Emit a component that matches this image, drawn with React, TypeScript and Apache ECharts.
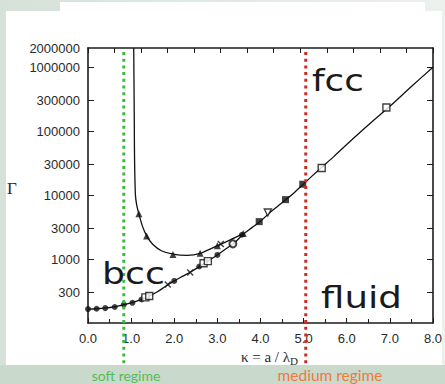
import React, { useEffect, useRef } from "react";
import * as echarts from "echarts";

// ---- data ----
const xMin = 0;
const xMax = 8;
const yMin = 100;
const yMax = 2000000;
const yLabelValues = [300, 1000, 3000, 10000, 30000, 100000, 300000, 1000000, 2000000];
const yTickValues = [300, 1000, 3000, 10000, 30000, 100000, 300000, 1000000];

// bcc/fcc - fluid melting line (lower curve)
const lowerKappa = [0, 0.2, 0.4, 0.6, 0.8, 1.0, 1.2, 1.4, 1.6, 1.8, 2.0, 2.2, 2.4, 2.6, 2.8, 3.0, 3.2, 3.4, 3.6, 3.8, 4.0, 4.2, 4.4, 4.6, 4.8, 5.0, 5.2, 5.4, 5.7, 6.0, 6.5, 7.0, 7.5, 8.0];
const lowerGamma = [165, 167, 171, 178, 190, 206, 228, 260, 305, 375, 455, 540, 640, 775, 950, 1160, 1450, 1800, 2450, 3100, 3900, 5200, 6700, 8600, 11200, 15000, 20000, 26500, 40000, 62000, 125000, 245000, 500000, 1000000];

// bcc - fcc boundary (upper curve)
const upperKappa = [1.06, 1.065, 1.07, 1.075, 1.08, 1.1, 1.13, 1.18, 1.26, 1.36, 1.5, 1.7, 2.0, 2.3, 2.6, 3.0, 3.3, 3.6];
const upperGamma = [2000000, 800000, 300000, 100000, 35000, 10000, 7000, 5100, 3300, 2300, 1700, 1350, 1180, 1140, 1230, 1620, 2000, 2500];

// simulation markers
const filledCircles = [[0, 165], [0.2, 167], [0.4, 171], [0.62, 178], [0.83, 194], [1.03, 207], [1.24, 233], [2.0, 455], [2.58, 765], [3.0, 1160], [3.57, 2400]];
const filledSquares = [[3.97, 3850], [4.58, 8500], [4.98, 14800]];
const openSquares = [[1.33, 252], [1.42, 265], [2.68, 860], [2.78, 930], [5.42, 26500], [6.92, 235000]];
const triangles = [[1.18, 5100], [1.36, 2300], [1.97, 1180], [2.6, 1230], [3.0, 1620], [3.6, 2500]];
const downTriangles = [[4.17, 5350]];
const crosses = [[1.85, 400], [2.37, 615], [3.08, 1720]];
const openCircles = [[3.36, 1730]];

// regime markers
const softKappa = 0.83;
const mediumKappa = 5.05;

const zip = (xs: number[], ys: number[]) => xs.map((x, i) => [x, ys[i]]);

export default function App() {
  const ref = useRef<HTMLDivElement>(null);
  useEffect(() => {
    const chart = echarts.init(ref.current!, null, { renderer: "svg" });
    const axisColor = "#1c1c1c";
    const tickLabel = { fontFamily: "Liberation Sans", fontSize: 13, color: "#2a2a2a" };
    const option: any = {
      animation: false,
      grid: { left: 88, right: 11, top: 48, bottom: 61 },
      xAxis: [
        {
          type: "value", min: xMin, max: xMax, interval: 1, position: "bottom",
          axisLine: { show: true, lineStyle: { color: axisColor, width: 1.6 } },
          axisTick: { show: true, inside: true, length: 5, lineStyle: { color: axisColor, width: 1 } },
          minorTick: { show: true, splitNumber: 2, length: 4, lineStyle: { color: axisColor, width: 1 } },
          axisLabel: { ...tickLabel, margin: 9, formatter: (v: number) => v.toFixed(1) },
          splitLine: { show: false },
        },
        {
          type: "value", min: xMin, max: xMax, interval: 8 / 13, position: "top",
          axisLine: { show: true, onZero: false, lineStyle: { color: axisColor, width: 1.6 } },
          axisTick: { show: true, inside: true, length: 5, lineStyle: { color: axisColor, width: 1 } },
          axisLabel: { show: false },
          splitLine: { show: false },
        },
      ],
      yAxis: [
        {
          type: "log", logBase: 10, min: yMin, max: yMax, position: "left",
          axisLine: { show: true, onZero: false, lineStyle: { color: axisColor, width: 1.6 } },
          axisTick: { show: true, inside: true, length: 6, customValues: yTickValues, lineStyle: { color: axisColor, width: 1 } },
          axisLabel: { ...tickLabel, margin: 8, customValues: yLabelValues, formatter: (v: number) => String(Math.round(v)) },
          splitLine: { show: false },
          minorTick: { show: false },
        },
        {
          type: "log", logBase: 10, min: yMin, max: yMax, position: "right",
          axisLine: { show: true, onZero: false, lineStyle: { color: axisColor, width: 1.6 } },
          axisTick: { show: true, inside: true, length: 6, customValues: yTickValues, lineStyle: { color: axisColor, width: 1 } },
          axisLabel: { show: false, customValues: yTickValues },
          splitLine: { show: false },
        },
      ],
      series: [
        {
          type: "line", data: zip(lowerKappa, lowerGamma), smooth: 0.3, showSymbol: false,
          lineStyle: { color: "#111", width: 1.3 }, silent: true, z: 3,
        },
        {
          type: "line", data: zip(upperKappa, upperGamma), smooth: 0.3, showSymbol: false,
          lineStyle: { color: "#111", width: 1.3 }, silent: true, z: 3,
        },
        { type: "scatter", data: filledCircles, symbol: "circle", symbolSize: 6, itemStyle: { color: "#111" }, z: 4 },
        { type: "scatter", data: filledSquares, symbol: "rect", symbolSize: 7, itemStyle: { color: "#111" }, z: 4 },
        { type: "scatter", data: openSquares, symbol: "rect", symbolSize: 7, itemStyle: { color: "#fff", borderColor: "#111", borderWidth: 1.4 }, z: 4 },
        { type: "scatter", data: triangles, symbol: "triangle", symbolSize: 7, itemStyle: { color: "#111" }, z: 4 },
        { type: "scatter", data: downTriangles, symbol: "triangle", symbolRotate: 180, symbolSize: 7, itemStyle: { color: "#fff", borderColor: "#111", borderWidth: 1.4 }, z: 4 },
        { type: "scatter", data: crosses, symbol: "path://M0,0L10,10M10,0L0,10", symbolSize: 6, itemStyle: { color: "none", borderColor: "#111", borderWidth: 1.4 }, z: 4 },
        { type: "scatter", data: openCircles, symbol: "emptyCircle", symbolSize: 7, itemStyle: { color: "#111", borderColor: "#111", borderWidth: 1.4 }, z: 4 },
      ],
    };
    chart.setOption(option);

    const gx = chart.convertToPixel({ xAxisIndex: 0 }, softKappa) as number;
    const rx = chart.convertToPixel({ xAxisIndex: 0 }, mediumKappa) as number;

    const txt = (text: string, x: number, y: number, font: string, fill: string, align = "left", scaleX = 1) => ({
      type: "text", z: 10, x, y, scaleX,
      style: { text, x: 0, y: 0, font, fill, align, textAlign: align, verticalAlign: "middle", textVerticalAlign: "middle" },
    });

    chart.setOption({
      graphic: [
        { type: "rect", z: -20, silent: true, shape: { x: 0, y: 0, width: 445, height: 384 },
          style: { fill: new echarts.graphic.LinearGradient(0, 0, 1, 0, [{ offset: 0, color: "#d6e1d9" }, { offset: 1, color: "#edf1ee" }]) } },
        { type: "rect", z: -19, silent: true, shape: { x: 6, y: 11, width: 436, height: 354 }, style: { fill: "#ffffff" } },
        { type: "rect", z: -19, silent: true, shape: { x: 60, y: 2, width: 365, height: 10 }, style: { fill: "#ffffff" } },
        { type: "rect", z: -19, silent: true, shape: { x: 0, y: 365, width: 445, height: 19 }, style: { fill: "#c9d9cc" } },
        { type: "line", z: 8, silent: true, shape: { x1: gx, y1: 52, x2: gx, y2: 365 },
          style: { stroke: "#3dba3d", lineWidth: 3, lineDash: [3, 3.7], lineCap: "butt" } },
        { type: "line", z: 8, silent: true, shape: { x1: rx, y1: 52, x2: rx, y2: 365 },
          style: { stroke: "#cc2b22", lineWidth: 3, lineDash: [3, 3.7], lineCap: "butt" } },
        txt("fcc", 312, 80, "31px 'DejaVu Sans'", "#1a1a1a", "left", 1.15),
        txt("bcc", 102, 273, "31px 'DejaVu Sans'", "#1a1a1a", "left", 1.17),
        txt("fluid", 321, 297, "31px 'DejaVu Sans'", "#1a1a1a", "left", 1.2),
        txt("Γ", 7, 188, "17px 'Liberation Serif'", "#2a2a2a"),
        txt("κ = a / λ", 290, 357, "15px 'Liberation Serif'", "#2a2a2a", "right"),
        txt("D", 290, 361, "11px 'Liberation Serif'", "#2a2a2a"),
        txt("soft regime", 126, 375, "14px Lato", "#55bd55", "center"),
        txt("medium regime", 330, 375, "15.5px Lato", "#ee7a3c", "center"),
      ],
    });
    return () => chart.dispose();
  }, []);
  return <div ref={ref} style={{ position: "absolute", left: 0, top: 0, width: 445, height: 384 }} />;
}
